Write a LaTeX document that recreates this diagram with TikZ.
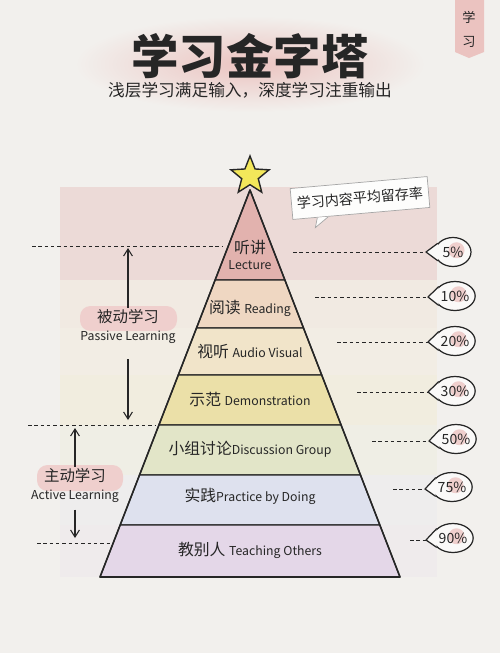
\documentclass[tikz,border=0pt]{standalone}
\usepackage{fontspec}
\setmainfont{Noto Sans CJK SC}
\usetikzlibrary{arrows.meta,shapes.geometric,calc}

\definecolor{paper}{HTML}{F2F0ED}
\definecolor{ink}{HTML}{262626}
\definecolor{blush}{HTML}{EBC3C0}
\definecolor{lecturec}{HTML}{E2B2AE}
\definecolor{readingc}{HTML}{EFD7C2}
\definecolor{audioc}{HTML}{F1E4C9}
\definecolor{democ}{HTML}{EBE0A8}
\definecolor{discussc}{HTML}{E2E5C8}
\definecolor{practicec}{HTML}{DEE1EE}
\definecolor{teachc}{HTML}{E4D7E8}
\definecolor{starc}{HTML}{F3E75A}

\newcommand\zhsz{\fontsize{9}{10}\selectfont}
\newcommand\ensz{\fontsize{7}{8}\selectfont}

\begin{document}
\begin{tikzpicture}[x=0.02cm, y=-0.02cm,
  every node/.style={text=ink, inner sep=1pt},
  layer/.style={draw=ink, line width=0.7pt, line join=round},
  guide/.style={ink, line width=0.5pt, dash pattern=on 2pt off 1.6pt},
  gaparrow/.style={-{Straight Barb[length=4pt,width=5pt]}, ink, line width=0.6pt},
  pct/.style={ellipse, draw=ink, line width=0.7pt, fill=white!60!paper,
    minimum width=0.72cm, minimum height=0.58cm, inner sep=0pt,
    font=\fontsize{8}{9}\selectfont,
    path picture={\fill[blush!80] ([xshift=2pt,yshift=1pt]path picture bounding box.center) circle (0.16cm);}},
  tailfill/.style={fill=white!60!paper},
  tailline/.style={draw=ink, line width=0.7pt, line join=round}]

  %% Paper and margins
  \fill[paper] (0,0) rectangle (500,653);
  \useasboundingbox (0,0) rectangle (500,653);

  %% Header
  % Title with pink wash
  \shade[inner color=blush, outer color=paper] (250,64) ellipse [x radius=175, y radius=48];
  \node[font=\fontsize{27}{28}\selectfont\bfseries, inner sep=0pt] (title) at (250,56) {学习金字塔};
  \node[font=\fontsize{9.5}{10}\selectfont, inner sep=0pt] (subtitle) at (250,90) {浅层学习满足输入，深度学习注重输出};

  % Corner tab
  \fill[blush] (455,0) -- (484,0) -- (484,52) -- (469,58) -- (455,52) -- cycle;
  \node[font=\fontsize{7.5}{8}\selectfont] (tabtop) at (469,17) {学};
  \node[font=\fontsize{7.5}{8}\selectfont] (tabbot) at (469,42) {习};

  %% Background bands behind the pyramid
  \fill[lecturec!35!paper] (60,187) rectangle (437,280);
  \fill[readingc!25!paper] (60,280) rectangle (437,328);
  \fill[audioc!25!paper] (60,328) rectangle (437,375);
  \fill[democ!20!paper] (60,375) rectangle (437,425);
  \fill[discussc!20!paper] (60,425) rectangle (437,475);
  \fill[practicec!20!paper] (60,475) rectangle (437,525);
  \fill[teachc!20!paper] (60,525) rectangle (437,577);

  %% Pyramid layers
  \filldraw[layer, fill=lecturec] (250,190) -- (284.9,280) -- (215.1,280) -- cycle;
  \filldraw[layer, fill=readingc] (215.1,280) -- (284.9,280) -- (303.5,328) -- (196.5,328) -- cycle;
  \filldraw[layer, fill=audioc] (196.5,328) -- (303.5,328) -- (321.7,375) -- (178.3,375) -- cycle;
  \filldraw[layer, fill=democ] (178.3,375) -- (321.7,375) -- (341.1,425) -- (158.9,425) -- cycle;
  \filldraw[layer, fill=discussc] (158.9,425) -- (341.1,425) -- (360.5,475) -- (139.5,475) -- cycle;
  \filldraw[layer, fill=practicec] (139.5,475) -- (360.5,475) -- (379.8,525) -- (120.2,525) -- cycle;
  \filldraw[layer, fill=teachc] (120.2,525) -- (379.8,525) -- (400,577) -- (100,577) -- cycle;
  \draw[layer, line width=0.9pt] (250,190) -- (400,577) -- (100,577) -- cycle;

  % Star on top
  \node[star, star points=5, star point ratio=2.3, fill=starc, draw=ink,
    line width=0.8pt, minimum size=0.8cm, inner sep=0pt] (star) at (250,176) {};

  % Layer labels
  \node[font=\zhsz] (lecturezh) at (250,247) {听讲};
  \node[font=\ensz] (lectureen) at (250,265) {Lecture};
  \node (reading) at (250,308) {\zhsz 阅读 \ensz Reading};
  \node (audio) at (250,352) {\zhsz 视听 \ensz Audio Visual};
  \node (demo) at (250,399) {\zhsz 示范 \ensz Demonstration};
  \node (discuss) at (250,449) {\zhsz 小组讨论\ensz Discussion Group};
  \node (practice) at (250,496) {\zhsz 实践\ensz Practice by Doing};
  \node (teach) at (250,550) {\zhsz 教别人 \ensz Teaching Others};

  %% Left side: passive / active
  \coordinate (passiveL) at (32,246);  \coordinate (passiveR) at (222,246);
  \coordinate (splitL) at (28,425);    \coordinate (splitR) at (155,425);
  \coordinate (activeL) at (37,543);   \coordinate (activeR) at (110,543);
  \draw[guide] (passiveL) -- (passiveR);
  \draw[guide] (splitL) -- (splitR);
  \draw[guide] (activeL) -- (activeR);

  % Pink marker strokes
  \fill[blush!80, rounded corners=6pt] (80,306) rectangle (177,331);
  \fill[blush!80, rounded corners=6pt] (37,465) rectangle (123,491);

  \node[font=\fontsize{8.8}{10}\selectfont] (passivezh) at (128,317) {被动学习};
  \node[font=\ensz] (passiveen) at (128,337) {Passive Learning};
  \node[font=\fontsize{8.8}{10}\selectfont] (activezh) at (75,476) {主动学习};
  \node[font=\ensz] (activeen) at (75,496) {Active Learning};

  \coordinate (ptop) at (128,248); \coordinate (pbot) at (128,420);
  \coordinate (atop) at (75,428);  \coordinate (abot) at (75,538);
  \draw[gaparrow] (passivezh.north) -- (ptop);
  \draw[gaparrow, shorten <=8pt] (passiveen.south) -- (pbot);
  \draw[gaparrow] (activezh.north) -- (atop);
  \draw[gaparrow, shorten <=3pt] (activeen.south) -- (abot);

  %% Right side: retention rates
  \node[draw=gray!70, fill=white!85!paper, rotate=5, minimum width=2.75cm,
    minimum height=0.62cm, font=\fontsize{8}{9}\selectfont] (retention) at (360,198) {学习内容平均留存率};
  \filldraw[fill=white!85!paper, draw=gray!70]
    ($(retention.south west)!0.18!(retention.south east)$) -- ++(-2,10)
    -- ($(retention.south west)!0.26!(retention.south east)$);

  \node[pct] (p5) at (453,252) {5\%};
  \node[pct] (p10) at (455,296) {10\%};
  \node[pct] (p20) at (455,341) {20\%};
  \node[pct] (p30) at (455,391) {30\%};
  \node[pct] (p50) at (456,439) {50\%};
  \node[pct] (p75) at (452,487) {75\%};
  \node[pct] (p90) at (453,538) {90\%};

  % Bubble tails
  \coordinate (t5) at (426,252);  \coordinate (t10) at (428,297);
  \coordinate (t20) at (428,342); \coordinate (t30) at (428,392);
  \coordinate (t50) at (429,441); \coordinate (t75) at (425,489);
  \coordinate (t90) at (426,540);
  \fill[tailfill] (p5.150) -- (t5) -- (p5.210) -- cycle;   \draw[tailline] (p5.150) -- (t5) -- (p5.210);
  \fill[tailfill] (p10.150) -- (t10) -- (p10.210) -- cycle; \draw[tailline] (p10.150) -- (t10) -- (p10.210);
  \fill[tailfill] (p20.150) -- (t20) -- (p20.210) -- cycle; \draw[tailline] (p20.150) -- (t20) -- (p20.210);
  \fill[tailfill] (p30.150) -- (t30) -- (p30.210) -- cycle; \draw[tailline] (p30.150) -- (t30) -- (p30.210);
  \fill[tailfill] (p50.150) -- (t50) -- (p50.210) -- cycle; \draw[tailline] (p50.150) -- (t50) -- (p50.210);
  \fill[tailfill] (p75.150) -- (t75) -- (p75.210) -- cycle; \draw[tailline] (p75.150) -- (t75) -- (p75.210);
  \fill[tailfill] (p90.150) -- (t90) -- (p90.210) -- cycle; \draw[tailline] (p90.150) -- (t90) -- (p90.210);

  % Dashed leaders
  \coordinate (s5) at (293,252);  \coordinate (s10) at (315,297);
  \coordinate (s20) at (337,342); \coordinate (s30) at (357,392);
  \coordinate (s50) at (372,441); \coordinate (s75) at (393,489);
  \coordinate (s90) at (410,540);
  \draw[guide] (s5) -- (t5);
  \draw[guide] (s10) -- (t10);
  \draw[guide] (s20) -- (t20);
  \draw[guide] (s30) -- (t30);
  \draw[guide] (s50) -- (t50);
  \draw[guide] (s75) -- (t75);
  \draw[guide] (s90) -- (t90);
\end{tikzpicture}
\end{document}
